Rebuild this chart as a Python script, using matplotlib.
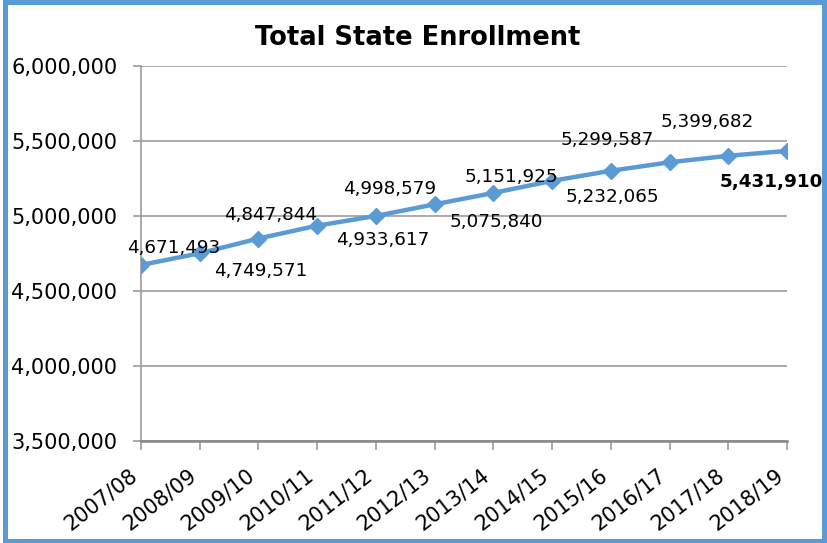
import matplotlib.pyplot as plt
from matplotlib.patches import Rectangle
from matplotlib.ticker import FuncFormatter

years = ["2007/08", "2008/09", "2009/10", "2010/11", "2011/12", "2012/13",
         "2013/14", "2014/15", "2015/16", "2016/17", "2017/18", "2018/19"]
enrollment = [4671493, 4749571, 4847844, 4933617, 4998579, 5075840,
              5151925, 5232065, 5299587, 5356000, 5399682, 5431910]
# which points carry a value label (2016/17 has none in the original)
labelled = [True, True, True, True, True, True,
            True, True, True, False, True, True]

# label offsets from each point in pixels (dx, dy), hand placed like the original
label_offsets = [(33, 17), (61, -18), (12, 24), (66, -14), (14, 27), (62, -18),
                 (18, 16), (60, -16), (-4, 31), (0, 0), (-21, 34), (-16, -31)]

blue = "#5B9BD5"
grid_gray = "#9C9C9C"

fig = plt.figure(figsize=(8.28, 5.43), dpi=100)
ax = fig.add_axes([0.1703, 0.1884, 0.7802, 0.6906])

x = list(range(len(years)))
ax.plot(x, enrollment, color=blue, linewidth=3.2, marker="D", markersize=8.5,
        zorder=3)

for i, (val, show) in enumerate(zip(enrollment, labelled)):
    if not show:
        continue
    dx, dy = label_offsets[i]
    bold = i == len(years) - 1
    ax.annotate(f"{val:,}", (x[i], val), xytext=(dx * 0.72, dy * 0.72),
                textcoords="offset points", ha="center", va="center",
                fontsize=13.2, fontweight="bold" if bold else "normal",
                color="black", zorder=4)

ax.set_xlim(0, len(years) - 1)
ax.set_ylim(3500000, 6000000)
ax.set_yticks(range(3500000, 6000001, 500000))
ax.yaxis.set_major_formatter(FuncFormatter(lambda v, p: f"{int(v):,}"))
ax.set_xticks(x)
ax.set_xticklabels(years, rotation=38, ha="right", va="top")

ax.grid(axis="y", color=grid_gray, linewidth=1.2)
ax.set_axisbelow(True)
for side in ["top", "right"]:
    ax.spines[side].set_visible(False)
ax.spines["left"].set_color(grid_gray)
ax.spines["left"].set_linewidth(1.2)
ax.spines["bottom"].set_color("#888888")
ax.spines["bottom"].set_linewidth(1.8)
ax.tick_params(axis="y", length=6, width=1.2, color=grid_gray, pad=11,
               labelsize=15)
ax.tick_params(axis="x", length=6.5, width=1.2, color=grid_gray, pad=11,
               labelsize=15)

fig.text(0.505, 0.93, "Total State Enrollment", ha="center", va="center",
         fontsize=18.5, fontweight="bold")

fig.patches.append(Rectangle((0.0065, 0.0046), 0.9885, 0.9908,
                             transform=fig.transFigure, fill=False,
                             edgecolor=blue, linewidth=3.6))

fig.savefig("out.png", dpi=100)
